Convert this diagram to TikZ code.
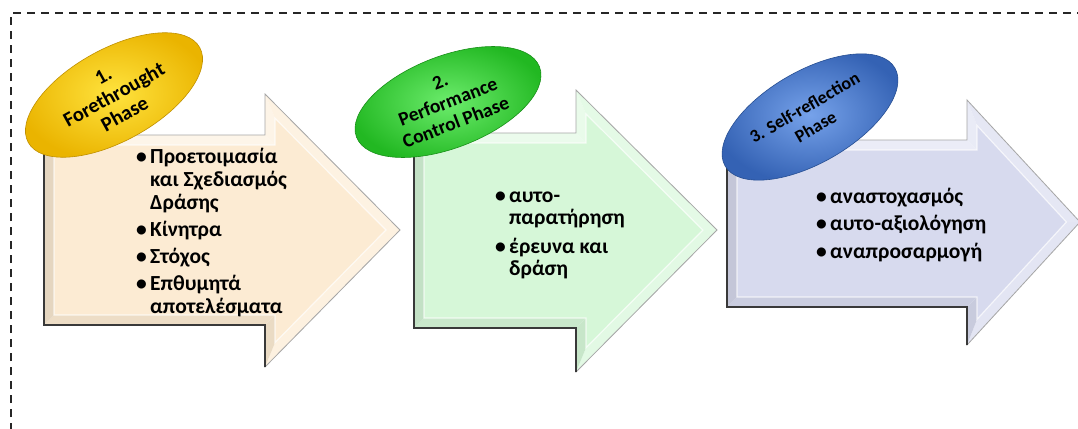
\documentclass[tikz,border=0pt]{standalone}
\usepackage{fontspec}
\setmainfont{Carlito}
\usetikzlibrary{shapes.geometric}

\definecolor{peach}{HTML}{FCEBD3}
\definecolor{mint}{HTML}{D6F7D8}
\definecolor{lilac}{HTML}{D7DAEE}
\definecolor{goldIn}{HTML}{FFE33E}
\definecolor{goldOut}{HTML}{EAB400}
\definecolor{goldRim}{HTML}{C09000}
\definecolor{greenIn}{HTML}{6CEC6C}
\definecolor{greenOut}{HTML}{22B822}
\definecolor{greenRim}{HTML}{189018}
\definecolor{blueIn}{HTML}{76A2EA}
\definecolor{blueOut}{HTML}{3462B4}
\definecolor{blueRim}{HTML}{264E92}

\def\bev{10}

% Bevelled block arrow:
% #1 left x, #2 body top, #3 body bottom, #4 head x,
% #5 head top, #6 head bottom, #7 tip x, #8 tip y, #9 colour
\newcommand{\bevelarrow}[9]{%
  \pgfmathsetmacro{\arSu}{(#8-#5)/(#7-#4)}%
  \pgfmathsetmacro{\arSd}{(#6-#8)/(#7-#4)}%
  \pgfmathsetmacro{\arKu}{\bev*sqrt(1+\arSu*\arSu)}%
  \pgfmathsetmacro{\arKd}{\bev*sqrt(1+\arSd*\arSd)}%
  \pgfmathsetmacro{\arTx}{#4+(#6-#5-\arKu-\arKd)/(\arSu+\arSd)}%
  \pgfmathsetmacro{\arTy}{#5+(\arTx-#4)*\arSu+\arKu}%
  \coordinate (oA) at (#1,#2);
  \coordinate (oB) at (#4,#2);
  \coordinate (oC) at (#4,#5);
  \coordinate (oT) at (#7,#8);
  \coordinate (oD) at (#4,#6);
  \coordinate (oE) at (#4,#3);
  \coordinate (oF) at (#1,#3);
  \coordinate (iA) at (#1+\bev,#2+\bev);
  \coordinate (iB) at (#4+\bev,#2+\bev);
  \coordinate (iC) at (#4+\bev,#5+\bev*\arSu+\arKu);
  \coordinate (iT) at (\arTx,\arTy);
  \coordinate (iD) at (#4+\bev,#6-\bev*\arSd-\arKd);
  \coordinate (iE) at (#4+\bev,#3-\bev);
  \coordinate (iF) at (#1+\bev,#3-\bev);
  % facets of the bevel
  \fill[#9!50!white] (oA) -- (oB) -- (iB) -- (iA) -- cycle;
  \fill[#9!55!white] (oB) -- (oC) -- (iC) -- (iB) -- cycle;
  \fill[#9!65!white] (oC) -- (oT) -- (iT) -- (iC) -- cycle;
  \fill[#9!70!white] (oT) -- (oD) -- (iD) -- (iT) -- cycle;
  \fill[#9!93!black] (oD) -- (oE) -- (iE) -- (iD) -- cycle;
  \fill[#9!94!black] (oE) -- (oF) -- (iF) -- (iE) -- cycle;
  \fill[#9!91!black] (oF) -- (oA) -- (iA) -- (iF) -- cycle;
  % face
  \fill[#9] (iA) -- (iB) -- (iC) -- (iT) -- (iD) -- (iE) -- (iF) -- cycle;
  % soft highlight along the inner edges
  \draw[white, opacity=0.7, line width=1.2pt] (iF) -- (iA) -- (iB) -- (iC) -- (iT) -- (iD) -- (iE) -- cycle;
  % outline
  \draw[arrowedge] (oA) -- (oB) -- (oC) -- (oT) -- (oD) -- (oE) -- (oF) -- cycle;
  \draw[arrowshadow] (oA) -- (oF) -- (oE) -- (oD);
}

\newcommand{\bl}{\makebox[14pt][l]{\textbullet}}
\newcommand{\ct}{\hspace*{14pt}}

\begin{document}
\begin{tikzpicture}[x=1pt, y=-1pt,
  frame/.style={dash pattern=on 8pt off 6pt, line width=1.3pt, black!85},
  arrowedge/.style={draw=gray!70, line width=0.8pt, line join=miter},
  arrowshadow/.style={draw=gray!45!black, line width=1.3pt},
  phase/.style={ellipse, minimum width=196pt, minimum height=92pt,
    inner sep=0pt, align=center, line width=0.6pt,
    font=\bfseries\fontsize{19.5}{22}\selectfont},
  listtext/.style={anchor=base west, inner sep=0pt, align=left,
    font=\bfseries\fontsize{21.5}{22.7}\selectfont}]

\useasboundingbox (0,0) rectangle (1078,428);
\fill[white] (0,0) rectangle (1078,428);

% dashed frame, open to the right and to the bottom
\draw[frame] (11,445) -- (11,13) -- (1095,13);

% the three phase arrows
\bevelarrow{44}{135}{325}{265}{94}{367}{400}{230}{peach}
\bevelarrow{414}{133}{328}{576}{90}{372}{717}{230}{mint}
\bevelarrow{727}{140}{307}{967}{100}{345}{1080}{222}{lilac}

% phase labels
\node[phase, rotate=29, inner color=goldIn, outer color=goldOut, draw=goldRim,
  font=\bfseries\fontsize{20.5}{22}\selectfont]
  (ph1) at (114,95) {1.\\Forethrought\\Phase};
\node[phase, rotate=21, inner color=greenIn, outer color=greenOut, draw=greenRim]
  (ph2) at (448,102) {2.\\Performance\\Control Phase};
\node[phase, rotate=30, inner color=blueIn, outer color=blueOut, draw=blueRim,
  font=\bfseries\fontsize{18}{22}\selectfont]
  (ph3) at (810,117) {3. Self-reflection\\Phase};

% contents of each phase (anchored at the baseline of the last line)
\node[listtext] (list1) at (136,313)
  {\bl Προετοιμασία\\\ct και Σχεδιασμός\\\ct Δράσης\\[4.3pt]
   \bl Κίνητρα\\[4.3pt]
   \bl Στόχος\\[4.3pt]
   \bl Επθυμητά\\\ct αποτελέσματα};
\node[listtext, font=\bfseries\fontsize{21.5}{22}\selectfont] (list2) at (495,275)
  {\bl αυτο-\\\ct παρατήρηση\\[7pt]
   \bl έρευνα και\\\ct δράση};
\node[listtext, font=\bfseries\fontsize{21.5}{27.5}\selectfont] (list3) at (816,258)
  {\bl αναστοχασμός\\
   \bl αυτο-αξιολόγηση\\
   \bl αναπροσαρμογή};

\end{tikzpicture}
\end{document}
